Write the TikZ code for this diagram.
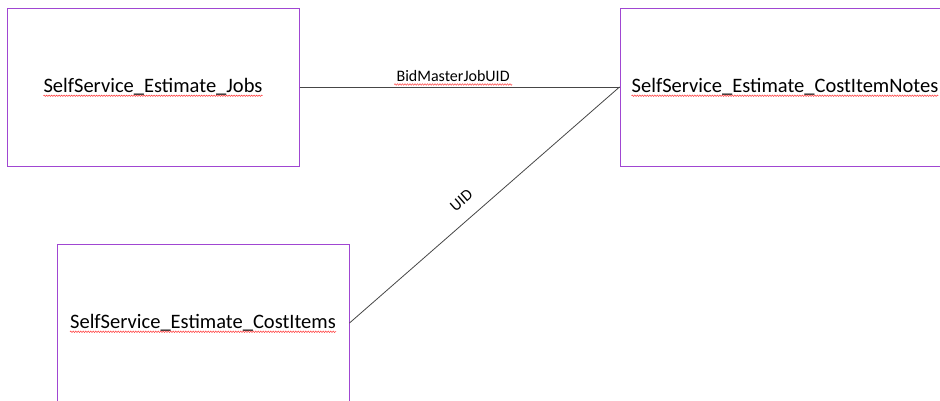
\documentclass[tikz,border=0pt]{standalone}
\usepackage{fontspec}
\setmainfont{Carlito}
\usetikzlibrary{positioning}
\usetikzlibrary{decorations.pathmorphing}
\definecolor{boxviolet}{RGB}{160,70,210}
\definecolor{linkgray}{RGB}{70,70,70}
\tikzset{
  tablebox/.style={draw=boxviolet, line width=1pt, minimum width=292pt, minimum height=158pt, inner sep=0pt},
  tabletext/.style={font=\fontsize{20.5}{24}\selectfont, text=black, inner sep=0pt},
  linktext/.style={font=\fontsize{16}{19}\selectfont, text=black, inner sep=2pt},
  squiggle/.style={draw=red!80, line width=0.5pt, decorate, decoration={snake, amplitude=0.7pt, segment length=2.5pt}},
  link/.style={draw=linkgray, line width=0.8pt}
}
\begin{document}
\begin{tikzpicture}[x=1pt,y=-1pt]
\useasboundingbox (0,0) rectangle (940,400);
\clip (0,0) rectangle (940,400);

\node[tablebox] (jobs) at (153,87) {};
\node[tablebox, minimum width=340pt] (notes) at (790,87) {};
\node[tablebox] (costitems) at (203,323) {};

\node[tabletext] (jobstext) at (jobs) {SelfService\_Estimate\_Jobs};
\node[tabletext, anchor=west] (notestext) at ([xshift=12pt]notes.west) {SelfService\_Estimate\_CostItemNotes};
\node[tabletext] (costitemstext) at (costitems) {SelfService\_Estimate\_CostItems};

\draw[link] (jobs.east) -- node[linktext, above=3pt, pos=0.48] (jobuid) {BidMasterJobUID} (notes.west);
\draw[link] (costitems.east) -- node[linktext, sloped, above=11pt, pos=0.46] (uid) {UID} (notes.west);

\foreach \Tx in {jobstext,notestext,costitemstext,jobuid}
{
  \draw[squiggle]
    ([yshift=-3pt]\Tx.base west) -- ([yshift=-3pt]\Tx.base east);
}
\end{tikzpicture}
\end{document}
